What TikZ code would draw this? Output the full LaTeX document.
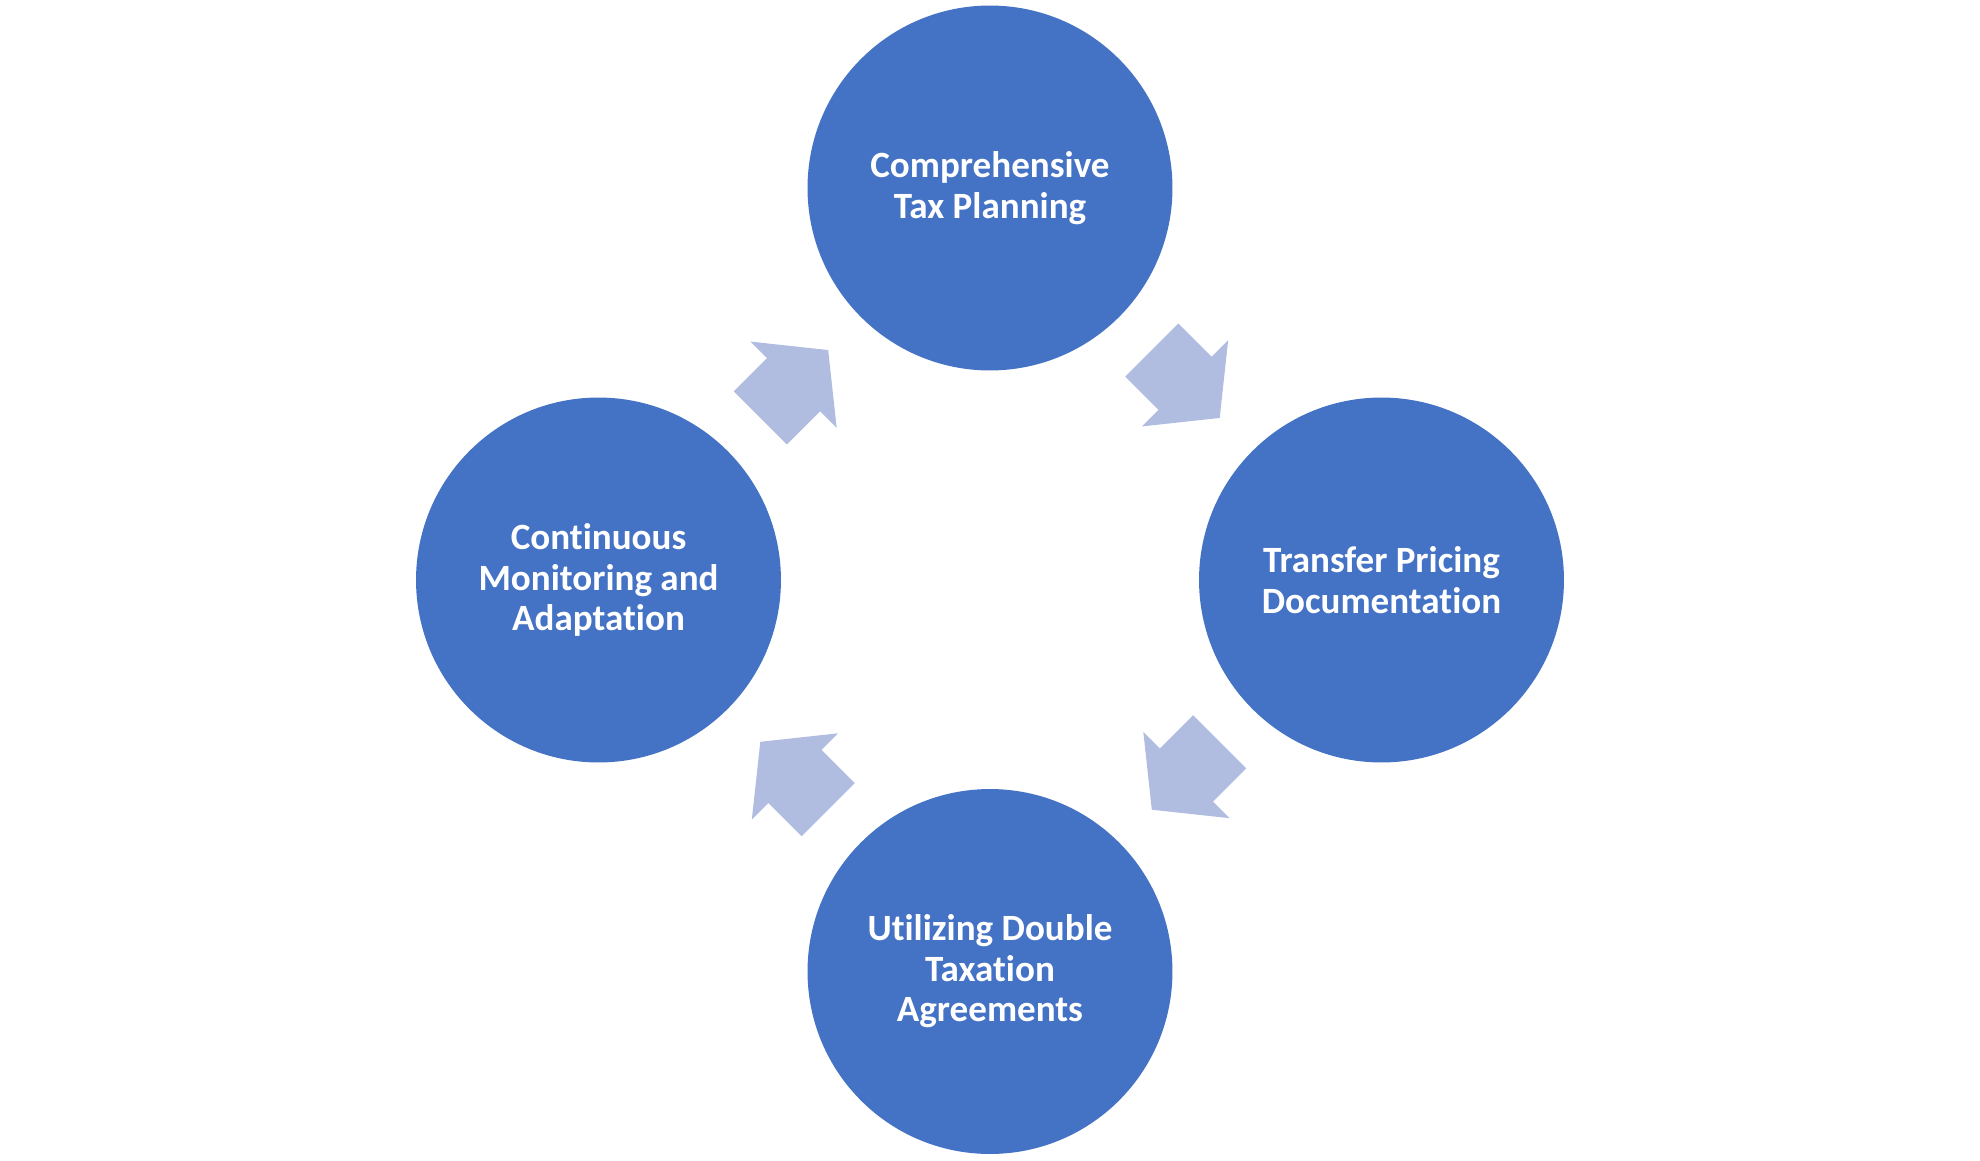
\documentclass[tikz,border=0pt]{standalone}
\usepackage{fontspec}
\setmainfont{Carlito}[Ligatures=NoCommon]
\usepackage{xcolor}
\usetikzlibrary{calc}

\definecolor{stepblue}{HTML}{4472C4}
\definecolor{arrowblue}{RGB}{176,188,224}

\begin{document}
\begin{tikzpicture}[
  x=0.02cm, y=0.02cm,
  every node/.style={font=\bfseries\fontsize{21.1}{23}\selectfont},
  stage/.style={circle, fill=stepblue, text=white, minimum size=7.3cm,
                inner sep=0pt, align=center},
  flowarrow/.style={fill=arrowblue}
]
\useasboundingbox (-990,-580) rectangle (990,580);

\node[stage] (plan)    at (0,392)    {Comprehensive\\Tax Planning};
\node[stage] (pricing) at (391.5,0)  {Transfer Pricing\\Documentation};
\node[stage] (treaty)  at (0,-391.5) {Utilizing Double\\Taxation\\Agreements};
\node[stage] (monitor) at (-391.5,0) {Continuous\\Monitoring and\\Adaptation};

% block arrows half way between the stages
\foreach \from/\to/\ang in {plan/pricing/-45, pricing/treaty/-135,
                            treaty/monitor/135, monitor/plan/45}{
  \begin{scope}[shift={($(\from)!0.5!(\to)$)}, rotate=\ang]
    \fill[flowarrow] (-48,-37.5) -- (-1,-37.5) -- (-1,-61) -- (48,0)
      -- (-1,61) -- (-1,37.5) -- (-48,37.5) -- cycle;
  \end{scope}
}
\end{tikzpicture}
\end{document}
